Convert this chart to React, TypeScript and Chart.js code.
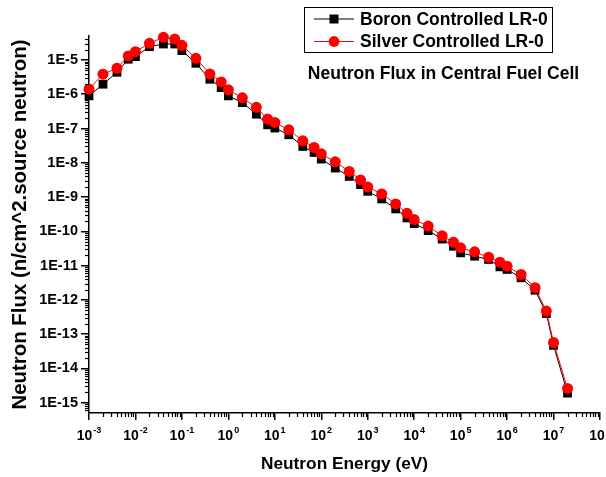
import React, { useEffect, useRef } from 'react';
import { Chart, registerables } from 'chart.js';

Chart.register(...registerables);

const FONT = '"Liberation Sans", Arial, sans-serif';

const energies = [
  1e-3, 2e-3, 4e-3, 7e-3, 1e-2, 2e-2, 4e-2, 7e-2, 0.1, 0.2, 0.4, 0.7,
  1, 2, 4, 7, 10, 20, 40, 70, 100, 200, 400, 700,
  1e3, 2e3, 4e3, 7e3, 1e4, 2e4, 4e4, 7e4, 1e5, 2e5, 4e5, 7e5,
  1e6, 2e6, 4e6, 7e6, 1e7, 2e7,
];

const boronFlux = [
  8.95e-7, 1.96e-6, 4.38e-6, 1.05e-5, 1.25e-5, 2.44e-5, 2.92e-5, 2.92e-5, 1.87e-5, 8.0e-6, 2.74e-6, 1.56e-6,
  8.95e-7, 5.71e-7, 2.62e-7, 1.28e-7, 1.03e-7, 6.56e-8, 2.99e-8, 2.0e-8, 1.28e-8, 7.0e-9, 4.0e-9, 2.3e-9,
  1.47e-9, 8.8e-10, 4.5e-10, 2.46e-10, 1.68e-10, 1.05e-10, 5.94e-11, 3.67e-11, 2.36e-11, 1.88e-11, 1.51e-11, 9.2e-12,
  7.7e-12, 4.4e-12, 1.92e-12, 4.0e-13, 4.7e-14, 1.9e-15,
];

const silverFlux = [
  1.43e-6, 3.84e-6, 5.73e-6, 1.31e-5, 1.75e-5, 3.06e-5, 4.58e-5, 4.08e-5, 2.68e-5, 1.12e-5, 3.91e-6, 2.29e-6,
  1.34e-6, 7.83e-7, 4.14e-7, 1.88e-7, 1.5e-7, 9.17e-8, 4.38e-8, 2.8e-8, 1.83e-8, 1.07e-8, 5.6e-9, 3.15e-9,
  1.97e-9, 1.23e-9, 6.3e-10, 3.35e-10, 2.2e-10, 1.42e-10, 7.4e-11, 4.8e-11, 3.3e-11, 2.52e-11, 1.76e-11, 1.26e-11,
  9.6e-12, 5.5e-12, 2.26e-12, 4.7e-13, 5.7e-14, 2.6e-15,
];

const seriesLabels = ['Boron Controlled LR-0', 'Silver Controlled LR-0'];
const chartTitle = 'Neutron Flux in Central Fuel Cell';
const xTitle = 'Neutron Energy (eV)';
const yTitle = 'Neutron Flux (n/cm^2.source neutron)';
const xTickExponents = [-3, -2, -1, 0, 1, 2, 3, 4, 5, 6, 7, 8];
const yTickExponents = [-15, -14, -13, -12, -11, -10, -9, -8, -7, -6, -5];
const xRange = [1e-3, 1e8];
const yRange = [5e-16, 5e-5];

const decorPlugin = {
  id: 'decor',
  afterDraw(chart: any) {
    const { ctx, chartArea } = chart;
    const xs = chart.scales.x;
    const ys = chart.scales.y;
    ctx.save();
    ctx.strokeStyle = '#000';
    ctx.fillStyle = '#000';
    ctx.lineWidth = 1.2;
    // minor ticks
    for (let e = -4; e <= 8; e++) {
      for (let m = 2; m <= 9; m++) {
        const v = m * Math.pow(10, e);
        if (v > xRange[0] && v < xRange[1]) {
          const px = Math.round(xs.getPixelForValue(v)) + 0.5;
          ctx.beginPath();
          ctx.moveTo(px, chartArea.bottom);
          ctx.lineTo(px, chartArea.bottom + 4);
          ctx.stroke();
        }
      }
    }
    for (let e = -17; e <= -4; e++) {
      for (let m = 2; m <= 9; m++) {
        const v = m * Math.pow(10, e);
        if (v > yRange[0] && v < yRange[1]) {
          const py = Math.round(ys.getPixelForValue(v)) + 0.5;
          ctx.beginPath();
          ctx.moveTo(chartArea.left, py);
          ctx.lineTo(chartArea.left - 4, py);
          ctx.stroke();
        }
      }
    }
    // x tick labels with superscript exponents
    ctx.textBaseline = 'alphabetic';
    ctx.textAlign = 'left';
    for (const d of xTickExponents) {
      const px = xs.getPixelForValue(Math.pow(10, d));
      const base = '10';
      const exp = String(d);
      ctx.font = `bold 14px ${FONT}`;
      const wb = ctx.measureText(base).width;
      ctx.font = `bold 9px ${FONT}`;
      const we = ctx.measureText(exp).width;
      const x0 = px - (wb + 1 + we) / 2;
      ctx.font = `bold 14px ${FONT}`;
      ctx.fillText(base, x0, 440);
      ctx.font = `bold 9px ${FONT}`;
      ctx.fillText(exp, x0 + wb + 1, 433);
    }
    // legend
    ctx.lineWidth = 1;
    ctx.strokeRect(304.5, 7.5, 248, 45);
    const rows = [19, 41.5];
    chart.data.datasets.forEach((ds: any, i: number) => {
      const y = rows[i];
      ctx.strokeStyle = ds.borderColor;
      ctx.lineWidth = 1;
      ctx.beginPath();
      ctx.moveTo(314, y);
      ctx.lineTo(354, y);
      ctx.stroke();
      ctx.fillStyle = ds.pointBackgroundColor;
      if (ds.pointStyle === 'rect') {
        ctx.fillRect(334 - 4.5, y - 4.5, 9, 9);
      } else {
        ctx.beginPath();
        ctx.arc(334, y, 5.4, 0, Math.PI * 2);
        ctx.fill();
      }
      ctx.fillStyle = '#000';
      ctx.font = `bold 17.5px ${FONT}`;
      ctx.textBaseline = 'middle';
      ctx.fillText(ds.label, 360, y + 1);
    });
    // inner title
    ctx.textAlign = 'center';
    ctx.font = `bold 17.5px ${FONT}`;
    ctx.fillText(chartTitle, 443.5, 74);
    ctx.restore();
  },
};

export default function App() {
  const ref = useRef<HTMLCanvasElement>(null);
  useEffect(() => {
    if (!ref.current) return;
    const chart = new Chart(ref.current, {
      type: 'line',
      data: {
        datasets: [
          {
            label: seriesLabels[0],
            data: energies.map((e, i) => ({ x: e, y: boronFlux[i] })),
            borderColor: '#000000',
            backgroundColor: '#000000',
            pointBackgroundColor: '#000000',
            pointBorderColor: '#000000',
            pointStyle: 'rect',
            pointRadius: 6.2,
            pointBorderWidth: 0,
            borderWidth: 1,
            clip: false,
            order: 1,
          },
          {
            label: seriesLabels[1],
            data: energies.map((e, i) => ({ x: e, y: silverFlux[i] })),
            borderColor: '#ff0000',
            backgroundColor: '#ff0000',
            pointBackgroundColor: '#ff0000',
            pointBorderColor: '#ff0000',
            pointStyle: 'circle',
            pointRadius: 5.5,
            pointBorderWidth: 0,
            borderWidth: 1,
            clip: false,
            order: 0,
          },
        ],
      } as any,
      options: {
        animation: false,
        responsive: false,
        devicePixelRatio: 1,
        layout: { padding: { left: 0, right: 20, top: 36, bottom: 0 } },
        plugins: {
          legend: { display: false },
          tooltip: { enabled: false },
          title: { display: false },
        },
        scales: {
          x: {
            type: 'logarithmic',
            min: xRange[0],
            max: xRange[1],
            afterBuildTicks: (s: any) => {
              s.ticks = xTickExponents.map((d) => ({ value: Math.pow(10, d) }));
            },
            afterFit: (s: any) => {
              s.height = 64;
            },
            ticks: { display: false, autoSkip: false },
            grid: { display: true, drawOnChartArea: false, drawTicks: true, tickLength: 7, color: '#000', lineWidth: 1.5 },
            border: { display: true, color: '#000', width: 1.5 },
            title: {
              display: true,
              text: xTitle,
              color: '#000',
              font: { family: FONT, size: 17.3, weight: 'bold' },
              padding: { top: 0, bottom: 2 },
            },
          },
          y: {
            type: 'logarithmic',
            min: yRange[0],
            max: yRange[1],
            afterBuildTicks: (s: any) => {
              s.ticks = yTickExponents.map((d) => ({ value: Math.pow(10, d) }));
            },
            afterFit: (s: any) => {
              s.width = 89;
            },
            ticks: {
              autoSkip: false,
              color: '#000',
              padding: 3,
              font: { family: FONT, size: 14.5, weight: 'bold' },
              callback: (v: any) => '1E' + Math.round(Math.log10(Number(v))),
            },
            grid: { display: true, drawOnChartArea: false, drawTicks: true, tickLength: 8, color: '#000', lineWidth: 1.5 },
            border: { display: true, color: '#000', width: 1.5 },
            title: {
              display: true,
              text: yTitle,
              color: '#000',
              font: { family: FONT, size: 20.4, weight: 'bold' },
              padding: { top: 8, bottom: 0 },
            },
          },
        },
      } as any,
      plugins: [decorPlugin],
    });
    return () => chart.destroy();
  }, []);
  return (
    <div style={{ position: 'fixed', left: 0, top: 0, width: 606, height: 477, overflow: 'hidden', background: '#fff' }}>
      <canvas ref={ref} width={620} height={477} style={{ display: 'block' }} />
    </div>
  );
}
